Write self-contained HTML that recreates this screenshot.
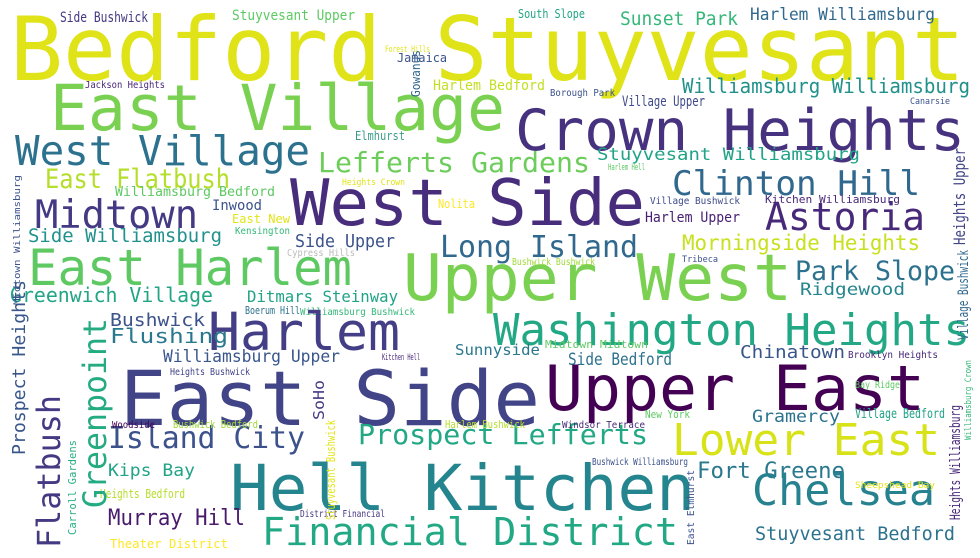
<!DOCTYPE html>
<html><head><meta charset="utf-8"><style>
html,body{margin:0;padding:0;background:#fff;}
svg{display:block;}
text{font-family:"DejaVu Sans Mono","Liberation Mono",monospace;}
</style></head><body>
<svg id="cloud" width="980" height="558" viewBox="0 0 980 558" xmlns="http://www.w3.org/2000/svg">
<rect width="980" height="558" fill="#fff"/>
</svg>
<script>
// [text, x, baselineY, width, fontSize, color, rotated]
const words = [
["Bedford Stuyvesant",10,80,955,88,"#dfe318",0],
["East Village",50,130,455,63,"#7ad151",0],
["Crown Heights",515,150,450,57,"#46327e",0],
["West Village",15,165,295,41,"#2c728e",0],
["Lefferts Gardens",318,172,272,28,"#6ccd5a",0],
["Stuyvesant Williamsburg",597,160,263,17,"#20a386",0],
["East Flatbush",45,188,185,27,"#b5de2b",0],
["Williamsburg Bedford",115,196,160,13,"#5ec962",0],
["West Side",290,225,355,64,"#472d7b",0],
["Clinton Hill",672,195,248,34,"#31688e",0],
["Midtown",35,228,163,39,"#443983",0],
["Inwood",212,210,50,14,"#3b528b",0],
["Nolita",438,208,37,12,"#fde725",0],
["Astoria",765,230,160,38,"#482878",0],
["Kitchen Williamsburg",765,203,135,11,"#482878",0],
["Village Bushwick",650,204,90,10,"#3e4a89",0],
["Harlem Upper",645,222,95,14,"#482173",0],
["East New",232,223,58,12,"#e2e418",0],
["Kensington",235,234,55,10,"#35b779",0],
["Side Williamsburg",28,242,194,19,"#21918c",0],
["Side Upper",295,247,100,18,"#3b528b",0],
["Long Island",440,257,198,30,"#31688e",0],
["Morningside Heights",682,250,238,21,"#c8e020",0],
["Cypress Hills",287,256,68,10,"#bbbbbb",0],
["East Harlem",28,285,324,50,"#5ec962",0],
["Upper West",403,300,389,64,"#7ad151",0],
["Bushwick Bushwick",512,265,83,10,"#a0da39",0],
["Tribeca",682,262,36,9,"#3b528b",0],
["Park Slope",795,280,160,27,"#2c728e",0],
["Greenwich Village",10,302,203,20,"#21a585",0],
["Ditmars Steinway",247,302,151,16,"#20a386",0],
["Williamsburg Bushwick",300,315,115,10,"#35b779",0],
["Ridgewood",800,295,105,17,"#25858e",0],
["Boerum Hill",245,314,55,11,"#2c728e",0],
["Bushwick",110,326,95,18,"#3b528b",0],
["Harlem",208,350,192,53,"#433e85",0],
["Washington Heights",493,345,477,44,"#22a884",0],
["Flushing",110,343,118,20,"#2a788e",0],
["Sunnyside",455,355,85,15,"#2a788e",0],
["Midtown Midtown",545,348,103,11,"#5ec962",0],
["Kitchen Hell",382,360,38,9,"#482878",0],
["Chinatown",740,358,105,18,"#39568c",0],
["Brooklyn Heights",848,358,90,10,"#482878",0],
["Williamsburg Upper",163,362,177,17,"#39568c",0],
["Side Bedford",568,365,104,17,"#2c728e",0],
["Heights Bushwick",170,375,80,10,"#414487",0],
["East Side",120,425,420,76,"#414487",0],
["Upper East",545,410,380,62,"#440154",0],
["Bay Ridge",855,388,45,10,"#5ec962",0],
["Gramercy",752,422,88,17,"#2c728e",0],
["Village Bedford",855,418,90,13,"#20a386",0],
["New York",645,418,45,11,"#5ec962",0],
["Island City",108,448,197,30,"#3b528b",0],
["Prospect Lefferts",358,444,290,28,"#22a884",0],
["Windsor Terrace",562,428,83,10,"#482878",0],
["Harlem Bushwick",445,428,80,11,"#b5de2b",0],
["Lower East",672,455,268,44,"#d8e219",0],
["Woodside",112,428,43,10,"#440154",0],
["Bushwick Bedford",173,428,85,11,"#a0da39",0],
["Kips Bay",108,476,87,17,"#20a386",0],
["Hell Kitchen",230,510,465,63,"#25858e",0],
["Fort Greene",697,478,148,22,"#2a788e",0],
["Bushwick Williamsburg",592,465,96,10,"#3b528b",0],
["Heights Bedford",100,498,85,12,"#b5de2b",0],
["Chelsea",752,505,183,43,"#26828e",0],
["Sheepshead Bay",855,488,80,9,"#e2e418",0],
["Murray Hill",108,525,137,22,"#481a6c",0],
["District Financial",300,517,85,10,"#443983",0],
["Financial District",262,545,416,38,"#22a884",0],
["Stuyvesant Bedford",755,540,200,19,"#2c728e",0],
["Theater District",110,548,118,12,"#fde725",0],
["Side Bushwick",60,22,88,14,"#443983",0],
["Stuyvesant Upper",232,20,123,14,"#5ec962",0],
["South Slope",518,18,67,12,"#21a585",0],
["Sunset Park",620,25,118,19,"#35b779",0],
["Harlem Williamsburg",750,20,185,17,"#31688e",0],
["Forest Hills",385,52,45,9,"#e2e418",0],
["Jamaica",397,62,50,12,"#3b528b",0],
["Jackson Heights",85,88,80,10,"#482878",0],
["Harlem Bedford",433,90,112,14,"#c2df23",0],
["Borough Park",550,96,65,10,"#3b528b",0],
["Williamsburg Williamsburg",682,93,288,20,"#21918c",0],
["Village Upper",622,106,83,14,"#3e4a89",0],
["Canarsie",910,104,40,9,"#3b528b",0],
["Elmhurst",355,140,50,12,"#3b9b8b",0],
["Heights Crown",342,185,63,9,"#e2e418",0],
["Harlem Hell",608,170,37,9,"#5ec962",0],
// rotated: x = baseline x, y = bottom end
["Gowanus",420,97,47,12,"#31688e",1],
["Midtown Williamsburg",20,305,130,9,"#3b528b",1],
["Prospect Heights",25,455,175,18,"#39568c",1],
["Flatbush",60,548,153,32,"#443983",1],
["Greenpoint",106,508,190,32,"#25ab82",1],
["Carroll Gardens",76,535,95,11,"#29af7f",1],
["Stuyvesant Bushwick",335,520,100,12,"#e2e418",1],
["SoHo",324,420,40,15,"#443983",1],
["East Elmhurst",694,545,75,10,"#3b528b",1],
["Heights Upper",965,245,97,16,"#414487",1],
["Village Bushwick",968,340,90,14,"#31688e",1],
["Heights Williamsburg",960,520,115,14,"#482878",1],
["Williamsburg Crown",971,440,80,9,"#35b779",1]
];
const svg = document.getElementById('cloud');
const NS = 'http://www.w3.org/2000/svg';
words.forEach(w => {
  const t = document.createElementNS(NS, 'text');
  t.textContent = w[0];
  t.setAttribute('font-size', w[4]);
  t.setAttribute('fill', w[5]);
  t.setAttribute('textLength', w[3]);
  t.setAttribute('lengthAdjust', 'spacingAndGlyphs');
  if (w[6]) {
    t.setAttribute('transform', 'translate(' + w[1] + ',' + w[2] + ') rotate(-90)');
  } else {
    t.setAttribute('x', w[1]);
    t.setAttribute('y', w[2]);
  }
  
  
  svg.appendChild(t);
});
</script>
</body></html>
